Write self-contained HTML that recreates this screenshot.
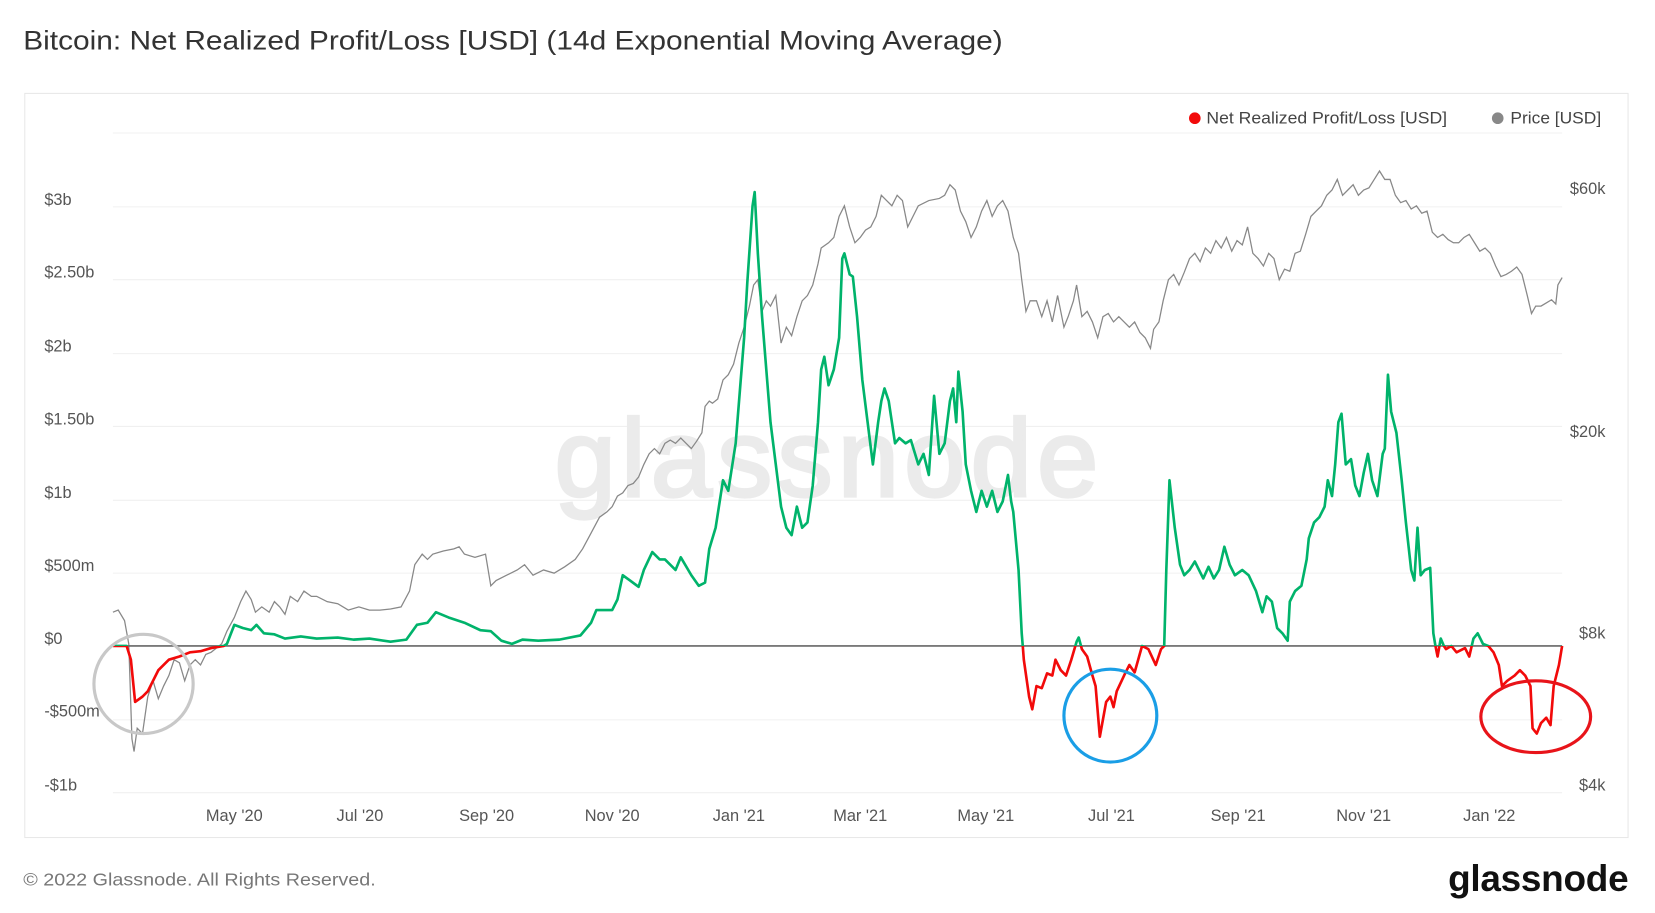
<!DOCTYPE html>
<html><head><meta charset="utf-8"><style>html,body{margin:0;padding:0;background:#fff}svg{display:block}</style></head><body>
<svg width="1655" height="913" viewBox="0 0 1568 865" xmlns="http://www.w3.org/2000/svg" font-family="Liberation Sans, sans-serif">
<defs>
<clipPath id="above"><rect x="0" y="0" width="1568" height="612"/></clipPath>
<clipPath id="below"><rect x="0" y="612" width="1568" height="300"/></clipPath>
</defs>
<text x="22" y="47" font-size="25.5" fill="#333" textLength="928" lengthAdjust="spacingAndGlyphs">Bitcoin: Net Realized Profit/Loss [USD] (14d Exponential Moving Average)</text>
<rect x="23.5" y="88.5" width="1519" height="705" fill="#fff" stroke="#e8e8e8"/>
<g stroke="#f0f0f0" stroke-width="1">
<line x1="107" x2="1480" y1="126" y2="126"/><line x1="107" x2="1480" y1="196" y2="196"/><line x1="107" x2="1480" y1="265" y2="265"/><line x1="107" x2="1480" y1="335" y2="335"/><line x1="107" x2="1480" y1="404" y2="404"/><line x1="107" x2="1480" y1="474" y2="474"/><line x1="107" x2="1480" y1="543" y2="543"/><line x1="107" x2="1480" y1="682" y2="682"/><line x1="107" x2="1480" y1="751" y2="751"/>
</g>
<text x="783" y="470" font-size="104" fill="#ebebeb" stroke="#ebebeb" stroke-width="3" text-anchor="middle" textLength="515">glassnode</text>
<g font-size="15.5" fill="#555">
<text x="42" y="194">$3b</text><text x="42" y="263">$2.50b</text><text x="42" y="333">$2b</text><text x="42" y="402">$1.50b</text><text x="42" y="472">$1b</text><text x="42" y="541">$500m</text><text x="42" y="610">$0</text><text x="42" y="679">-$500m</text><text x="42" y="749">-$1b</text>
<g text-anchor="end"><text x="1521" y="184">$60k</text><text x="1521" y="414">$20k</text><text x="1521" y="605">$8k</text><text x="1521" y="749">$4k</text></g>
<g text-anchor="middle"><text x="222" y="778">May '20</text><text x="341" y="778">Jul '20</text><text x="461" y="778">Sep '20</text><text x="580" y="778">Nov '20</text><text x="700" y="778">Jan '21</text><text x="815" y="778">Mar '21</text><text x="934" y="778">May '21</text><text x="1053" y="778">Jul '21</text><text x="1173" y="778">Sep '21</text><text x="1292" y="778">Nov '21</text><text x="1411" y="778">Jan '22</text></g>
</g>
<polyline fill="none" stroke="#888" stroke-width="1.2" points="107,580 112,578 118,588 122,610 125,700 127,712 130,690 135,695 140,660 145,645 150,662 155,650 160,640 165,625 170,628 175,645 180,630 185,625 190,630 195,620 200,618 210,610 215,598 222,585 228,570 233,560 238,568 242,580 248,575 255,580 260,570 265,575 270,582 275,565 282,570 288,560 295,565 300,565 310,570 320,572 330,578 340,575 350,578 360,578 370,577 380,575 388,560 393,535 400,525 405,530 410,525 420,522 430,520 435,518 440,525 450,528 460,525 465,555 470,550 480,545 490,540 497,535 505,545 515,540 525,543 535,537 545,530 552,520 560,505 568,490 575,485 580,480 585,470 590,467 595,460 600,458 605,452 610,440 615,430 620,425 625,430 630,420 635,417 640,420 645,415 650,420 655,425 660,418 665,410 668,385 672,380 675,382 680,378 685,360 690,355 695,345 700,325 705,310 710,290 714,270 718,265 722,295 726,285 730,290 735,280 740,325 745,310 750,318 755,300 760,285 765,280 770,270 775,250 778,235 785,230 790,225 795,205 800,195 805,215 810,230 815,225 820,218 825,215 830,205 835,185 840,190 845,195 850,185 855,190 860,215 865,205 870,195 880,190 890,188 895,185 900,175 905,180 910,200 915,210 920,225 925,215 930,200 935,190 940,205 945,195 950,190 955,200 960,225 965,240 968,265 972,295 976,285 982,285 987,300 992,285 997,305 1002,280 1008,310 1012,300 1017,285 1020,270 1025,300 1030,295 1035,305 1040,320 1045,300 1050,297 1055,305 1060,300 1065,305 1070,310 1075,305 1080,315 1085,320 1090,330 1093,312 1098,305 1102,285 1107,265 1112,260 1117,270 1122,258 1127,245 1132,240 1137,248 1142,235 1147,240 1152,228 1157,235 1162,225 1167,238 1172,228 1177,232 1182,215 1187,240 1192,245 1197,252 1202,240 1207,245 1212,265 1217,255 1222,257 1227,240 1232,238 1237,222 1242,205 1247,200 1252,195 1257,185 1262,180 1267,170 1272,185 1277,180 1282,175 1287,185 1292,180 1297,178 1302,170 1307,162 1312,170 1317,170 1322,185 1327,192 1332,190 1337,198 1342,195 1347,202 1352,200 1357,220 1362,225 1367,222 1372,227 1377,230 1382,230 1387,225 1392,222 1397,230 1402,238 1407,235 1412,240 1417,252 1422,262 1427,260 1432,257 1437,253 1442,260 1447,280 1451,297 1455,290 1460,290 1465,287 1470,284 1474,288 1476,270 1480,263"/>
<line x1="107" x2="1480" y1="612" y2="612" stroke="#666" stroke-width="1.5"/>
<g id="net">
<polyline id="netline" fill="none" stroke-width="2.5" stroke-linejoin="round" points="107,612 120,612 124,625 128,665 135,660 140,655 150,635 160,625 170,622 180,618 190,617 200,614 212,612 215,610 222,592 230,595 238,597 243,592 250,600 260,601 270,605 285,603 300,605 320,604 335,606 350,605 370,608 385,606 395,592 405,590 413,580 425,585 440,590 455,597 465,598 475,607 485,610 495,606 510,607 530,606 550,602 560,590 565,578 575,578 580,578 585,568 590,545 597,550 605,556 610,540 618,523 625,530 630,530 640,540 645,528 655,545 662,555 668,552 672,520 678,500 685,455 690,465 697,420 701,370 705,320 708,268 713,195 715,182 718,240 722,300 726,350 730,400 735,440 740,480 745,500 750,507 755,480 760,500 765,495 770,460 775,400 778,350 781,338 785,365 790,350 795,320 798,245 800,240 805,260 808,262 812,300 817,360 822,400 827,440 832,400 835,380 838,368 842,380 848,420 852,415 858,420 863,417 870,440 875,430 880,450 885,375 890,430 895,420 900,380 903,368 906,400 908,352 912,390 915,440 920,465 925,485 930,465 935,480 940,465 945,485 950,475 955,450 958,475 960,485 965,540 968,600 969,612 970,625 975,660 978,672 982,650 987,652 992,638 997,640 1000,625 1005,635 1010,640 1015,625 1020,608 1022,604 1025,615 1030,622 1035,640 1038,650 1042,698 1048,665 1052,660 1055,670 1058,655 1065,640 1070,630 1075,637 1082,612 1088,615 1095,630 1100,615 1103,612 1105,540 1108,455 1113,500 1118,535 1122,545 1127,540 1132,532 1140,548 1145,537 1150,548 1155,540 1160,518 1165,535 1170,545 1177,540 1183,545 1190,560 1196,580 1200,565 1205,570 1210,595 1215,600 1220,607 1222,570 1227,560 1233,555 1238,530 1240,510 1245,495 1250,490 1255,480 1258,455 1262,470 1265,440 1268,400 1271,392 1275,440 1280,435 1284,460 1288,470 1292,448 1296,430 1300,455 1305,470 1310,430 1312,425 1315,355 1318,390 1323,410 1328,455 1332,495 1337,540 1340,550 1343,500 1346,545 1350,540 1355,538 1358,600 1360,612 1362,622 1365,605 1368,612 1370,615 1375,612 1380,618 1388,614 1392,622 1396,605 1400,600 1405,610 1410,612 1415,618 1420,630 1423,650 1428,645 1435,640 1440,635 1445,640 1450,650 1452,690 1456,695 1460,685 1465,680 1469,687 1472,650 1477,630 1480,612"/>
</g>
<use href="#netline" stroke="#00b36b" clip-path="url(#above)"/>
<use href="#netline" stroke="#f20a0a" clip-path="url(#below)"/>
<circle cx="136" cy="648" r="47" fill="none" stroke="#c8c8c8" stroke-width="3"/>
<ellipse cx="1052" cy="678" rx="44" ry="44" fill="none" stroke="#1a9ee6" stroke-width="3"/>
<ellipse cx="1455" cy="679" rx="52" ry="34" fill="none" stroke="#e8141a" stroke-width="3"/>
<circle cx="1132" cy="112" r="5.5" fill="#f20a0a"/>
<text x="1143" y="117" font-size="15.5" fill="#444" textLength="228" lengthAdjust="spacingAndGlyphs">Net Realized Profit/Loss [USD]</text>
<circle cx="1419" cy="112" r="5.5" fill="#888"/>
<text x="1431" y="117" font-size="15.5" fill="#444" textLength="86" lengthAdjust="spacingAndGlyphs">Price [USD]</text>
<text x="22" y="839" font-size="17" fill="#777" textLength="334" lengthAdjust="spacingAndGlyphs">© 2022 Glassnode. All Rights Reserved.</text>
<text x="1543" y="844" font-size="35" font-weight="bold" fill="#111" text-anchor="end" textLength="171">glassnode</text>
</svg>
</body></html>
